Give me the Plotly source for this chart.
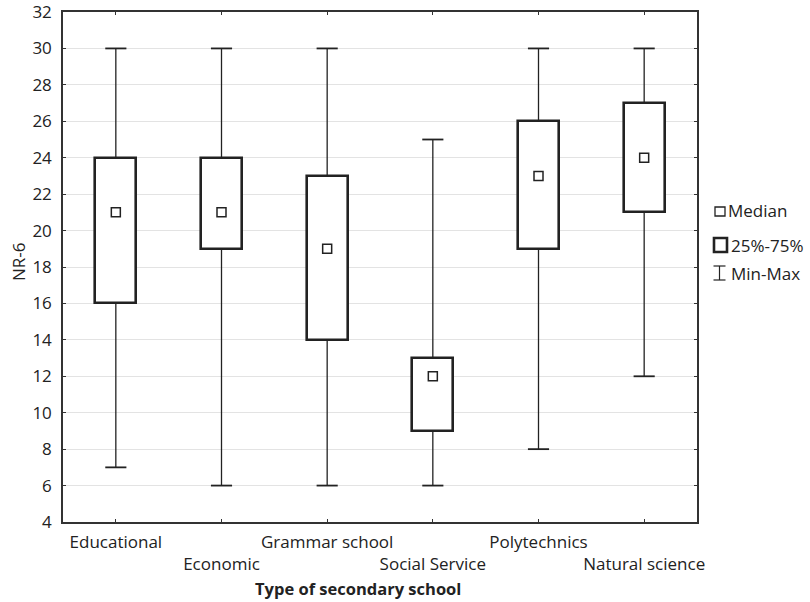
import plotly.graph_objects as go

categories = ["Educational", "Economic", "Grammar school", "Social Service", "Polytechnics", "Natural science"]
mins = [7, 6, 6, 6, 8, 12]
q1s = [16, 19, 14, 9, 19, 21]
medians = [21, 21, 19, 12, 23, 24]
q3s = [24, 24, 23, 13, 26, 27]
maxs = [30, 30, 30, 25, 30, 30]
yticks = list(range(4, 33, 2))

INK = "#222222"
FONT = "Open Sans"
FS = 17

idx = list(range(len(categories)))
ticktext = [c if i % 2 == 0 else "<br>" + c for i, c in enumerate(categories)]

fig = go.Figure()

# boxes (25%-75%)
fig.add_trace(go.Bar(
    x=idx, y=[b - a for a, b in zip(q1s, q3s)], base=q1s, width=0.39,
    marker=dict(color="white", line=dict(color=INK, width=2.6)),
    showlegend=False, hoverinfo="skip",
))

# whiskers
wx, wy = [], []
cx, cy = [], []
cap = 0.1
for i, lo, a, b, hi in zip(idx, mins, q1s, q3s, maxs):
    wx += [i, i, None, i, i, None]
    wy += [lo, a, None, b, hi, None]
    cx += [i - cap, i + cap, None, i - cap, i + cap, None]
    cy += [lo, lo, None, hi, hi, None]
fig.add_trace(go.Scatter(x=wx, y=wy, mode="lines", line=dict(color=INK, width=1.3),
                         showlegend=False, hoverinfo="skip"))
fig.add_trace(go.Scatter(x=cx, y=cy, mode="lines", line=dict(color=INK, width=1.8),
                         showlegend=False, hoverinfo="skip"))

# medians
fig.add_trace(go.Scatter(
    x=idx, y=medians, mode="markers",
    marker=dict(symbol="square-open", size=9, color=INK, line=dict(width=1.5)),
    showlegend=False,
))

L, R, T, B = 63, 697, 12, 522
W, H = 810, 602


def px(x):
    return (x - L) / (R - L)


def py(y):
    return (B - y) / (B - T)


shapes = [
    dict(type="rect", xref="paper", yref="paper", x0=px(715), x1=px(725), y0=py(216), y1=py(207),
         line=dict(color=INK, width=1.3)),
    dict(type="rect", xref="paper", yref="paper", x0=px(714), x1=px(727), y0=py(252), y1=py(238),
         line=dict(color=INK, width=2.6)),
    dict(type="line", xref="paper", yref="paper", x0=px(719.5), x1=px(719.5), y0=py(280), y1=py(266),
         line=dict(color=INK, width=1.2)),
    dict(type="line", xref="paper", yref="paper", x0=px(713.5), x1=px(725.5), y0=py(266), y1=py(266),
         line=dict(color=INK, width=1.2)),
    dict(type="line", xref="paper", yref="paper", x0=px(713.5), x1=px(725.5), y0=py(280), y1=py(280),
         line=dict(color=INK, width=1.2)),
]

annotations = [
    dict(text="Median", xref="paper", yref="paper", x=px(726), y=py(211), xanchor="left", yanchor="middle",
         showarrow=False, font=dict(family=FONT, size=FS, color=INK)),
    dict(text="25%-75%", xref="paper", yref="paper", x=px(729), y=py(245), xanchor="left", yanchor="middle",
         showarrow=False, font=dict(family=FONT, size=FS, color=INK)),
    dict(text="Min-Max", xref="paper", yref="paper", x=px(729), y=py(273), xanchor="left", yanchor="middle",
         showarrow=False, font=dict(family=FONT, size=FS, color=INK)),
    dict(text="<b>Type of secondary school</b>", xref="paper", yref="paper", x=px(358), y=py(588),
         xanchor="center", yanchor="middle", showarrow=False, font=dict(family=FONT, size=16.5, color=INK)),
    dict(text="NR-6", xref="paper", yref="paper", x=px(18), y=py(262), xanchor="center", yanchor="middle",
         textangle=-90, showarrow=False, font=dict(family=FONT, size=FS, color=INK)),
]

fig.update_layout(
    width=W, height=H,
    margin=dict(l=L, r=W - R, t=T, b=H - B, pad=0, autoexpand=False),
    paper_bgcolor="white", plot_bgcolor="white",
    font=dict(family=FONT, size=FS, color=INK),
    showlegend=False,
    shapes=shapes, annotations=annotations,
    bargap=0,
)
fig.update_xaxes(
    range=[-0.5, 5.5], tickmode="array", tickvals=idx, ticktext=ticktext, tickangle=0,
    automargin=False, ticklabelstandoff=4, ticklabeloverflow="allow",
    showline=True, mirror="allticks", linecolor="#333333", linewidth=1.5,
    ticks="inside", ticklen=3, tickcolor="#333333", showgrid=False, zeroline=False,
    tickfont=dict(family=FONT, size=FS, color=INK),
)
fig.update_yaxes(
    range=[4, 32], tickmode="array", tickvals=yticks, automargin=False,
    ticklabelstandoff=6, ticklabeloverflow="allow",
    showline=True, mirror="allticks", linecolor="#333333", linewidth=1.5,
    ticks="inside", ticklen=3, tickcolor="#333333",
    showgrid=True, gridcolor="#e3e3e3", gridwidth=1, zeroline=False,
    tickfont=dict(family=FONT, size=FS, color=INK),
)

fig.write_html("out.html", config={"displayModeBar": False},
               post_script="document.body.style.margin='0';")
